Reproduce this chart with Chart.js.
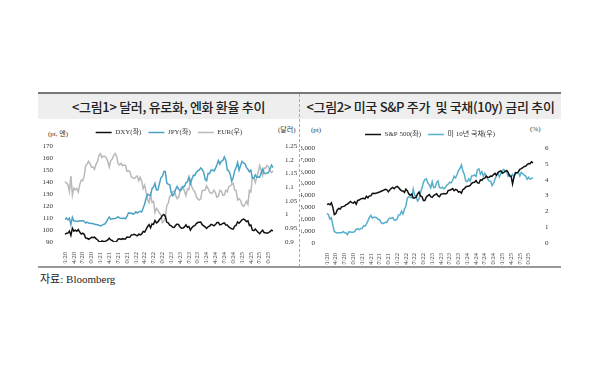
<!DOCTYPE html>
<html>
<head>
<meta charset="utf-8">
<script src="https://cdn.jsdelivr.net/npm/chart.js@4.4.1/dist/chart.umd.min.js"></script>
<style>
  body { margin:0; width:600px; height:372px; background:#fff; position:relative; overflow:hidden;
         font-family:'Liberation Serif','Noto Sans CJK KR',serif; }
  .abs { position:absolute; }
  .title { top:97px; height:20px; font-family:'Noto Sans CJK KR',sans-serif; font-size:13px; font-weight:500;
           color:#222; text-align:center; letter-spacing:-0.3px; line-height:20px; }
  .unit { font-size:7px; color:#333; white-space:nowrap; }
</style>
</head>
<body>
<div class="abs" style="left:38px;top:92px;width:523px;height:2px;background:#777"></div>
<div class="abs" style="left:38px;top:94px;width:523px;height:25px;background:#eeeeee"></div>
<div class="abs" style="left:299px;top:94px;height:173px;border-left:1px dashed #aaa"></div>
<div class="abs" style="left:38px;top:266px;width:523px;height:2px;background:#999"></div>
<div class="abs title" style="left:38px;width:261px">&lt;그림1&gt; 달러, 유로화, 엔화 환율 추이</div>
<div class="abs title" style="left:300px;width:261px">&lt;그림2&gt; 미국 S&amp;P 주가&nbsp; 및 국채(10y) 금리 추이</div>
<div class="abs" style="left:40px;top:270px;font-size:11px;color:#222">자료: Bloomberg</div>

<div class="abs unit" style="left:48px;top:128px">(pt, 엔)</div>
<div class="abs unit" style="left:278px;top:124px">(달러)</div>
<div class="abs unit" style="left:311px;top:126px">(pt)</div>
<div class="abs unit" style="left:530px;top:125px">(%)</div>

<canvas id="fxChart" class="abs" width="258" height="145" style="left:40px;top:121px"></canvas>
<canvas id="spxChart" class="abs" width="258" height="145" style="left:301px;top:121px"></canvas>

<script>
// 월별 라벨 (각 월 1일, 15일 두 점)
const months = [
  '01/20','02/20','03/20','04/20','05/20','06/20','07/20','08/20','09/20','10/20','11/20','12/20',
  '01/21','02/21','03/21','04/21','05/21','06/21','07/21','08/21','09/21','10/21','11/21','12/21',
  '01/22','02/22','03/22','04/22','05/22','06/22','07/22','08/22','09/22','10/22','11/22','12/22',
  '01/23','02/23','03/23','04/23','05/23','06/23','07/23','08/23','09/23','10/23','11/23','12/23',
  '01/24','02/24','03/24','04/24','05/24','06/24','07/24','08/24','09/24','10/24','11/24','12/24',
  '01/25','02/25','03/25','04/25','05/25','06/25','07/25','08/25','09/25','10/25','11/25'
];
const tickLabels = [
  '01/20','04/20','07/20','10/20','01/21','04/21','07/21','10/21','01/22','04/22','07/22','10/22',
  '01/23','04/23','07/23','10/23','01/24','04/24','07/24','10/24','01/25','04/25','07/25','10/25'
];

const dxy = [
  96.4,97.3, 97.4,99.1, 95.5,101.5, 99.0,99.9, 99.0,100.4, 98.3,96.6, 97.4,96.4, 93.3,93.1, 92.3,93.1, 93.9,93.7, 94.0,92.8, 91.9,90.5,
  89.9,90.8, 90.6,90.5, 90.9,91.7, 93.2,91.7, 91.3,90.2, 90.0,90.5, 92.4,92.6, 92.2,92.8, 92.6,92.5, 94.2,94.0, 94.1,95.9, 96.0,96.4,
  95.7,95.2, 96.5,96.0, 96.7,98.8, 98.3,100.5, 103.0,104.5, 101.8,105.0, 104.7,108.0, 105.9,106.7, 108.7,109.8, 112.1,113.0, 111.5,106.4, 105.9,104.0,
  103.5,102.2, 102.1,103.9, 104.9,104.5, 102.5,101.5, 101.7,102.5, 104.3,102.3, 102.9,99.9, 101.9,103.2, 103.6,105.3, 106.2,106.5, 106.7,104.4, 103.5,102.6,
  101.3,102.7, 103.3,104.7, 104.2,103.4, 104.5,106.2, 106.2,104.3, 104.7,105.5, 105.9,104.2, 104.1,102.6, 101.7,101.1, 100.8,103.2, 104.0,106.7, 105.7,107.0,
  108.5,109.1, 108.4,107.0, 107.6,103.7, 104.2,99.8, 99.5,100.8, 99.3,98.0, 96.9,98.6, 99.9,97.8, 97.8,97.3, 97.8,98.7, 99.8,99.3
];
const jpy = [
  108.7,110.0, 108.4,109.8, 104.5,110.5, 107.5,107.5, 107.2,107.1, 107.8,107.3, 107.9,107.2, 105.8,106.6, 105.9,105.7, 105.5,105.4, 104.7,104.6, 104.3,104.0,
  103.3,103.8, 104.7,105.0, 106.6,109.1, 110.7,108.8, 109.3,109.4, 109.6,110.1, 111.1,110.0, 109.7,109.6, 110.0,109.4, 111.3,114.2, 113.9,114.1, 113.2,113.7,
  115.1,114.2, 115.1,115.6, 115.0,118.3, 121.7,126.4, 129.8,129.2, 128.7,134.5, 135.7,138.9, 133.3,133.3, 138.7,143.5, 144.7,148.7, 148.7,139.3, 138.1,137.7,
  131.1,128.5, 130.1,133.9, 136.2,134.2, 132.8,133.8, 136.3,136.2, 139.3,140.2, 144.3,138.8, 142.3,145.6, 145.5,147.9, 149.4,149.8, 151.7,150.4, 148.2,142.2,
  141.0,147.2, 146.9,150.0, 150.0,149.0, 151.3,154.3, 157.8,154.9, 157.3,157.9, 160.9,158.1, 150.0,149.3, 146.2,140.6, 143.6,149.2, 152.0,156.3, 149.8,153.7,
  157.2,155.9, 155.2,152.2, 150.6,148.6, 149.9,143.2, 143.1,146.0, 144.0,144.1, 144.0,147.7, 150.7,147.2, 147.0,147.5, 147.9,151.0, 154.0,152.0
];
const eur = [
  1.121,1.115, 1.109,1.084, 1.140,1.070, 1.097,1.090, 1.095,1.082, 1.110,1.125, 1.123,1.140, 1.178,1.184, 1.194,1.185, 1.172,1.174, 1.165,1.183, 1.193,1.215,
  1.222,1.208, 1.213,1.213, 1.207,1.194, 1.173,1.197, 1.202,1.215, 1.223,1.212, 1.186,1.181, 1.187,1.178, 1.181,1.180, 1.158,1.160, 1.156,1.137, 1.134,1.131,
  1.137,1.141, 1.123,1.136, 1.122,1.095, 1.107,1.081, 1.054,1.044, 1.073,1.044, 1.048,1.008, 1.022,1.016, 1.005,1.000, 0.970,0.975, 0.988,1.033, 1.041,1.066,
  1.070,1.083, 1.086,1.070, 1.058,1.063, 1.084,1.100, 1.102,1.085, 1.069,1.094, 1.091,1.123, 1.100,1.090, 1.084,1.066, 1.057,1.053, 1.057,1.088, 1.088,1.090,
  1.104,1.095, 1.082,1.077, 1.080,1.089, 1.079,1.063, 1.067,1.088, 1.085,1.070, 1.071,1.089, 1.083,1.101, 1.105,1.109, 1.114,1.089, 1.088,1.053, 1.058,1.051,
  1.035,1.030, 1.036,1.049, 1.037,1.088, 1.082,1.135, 1.133,1.117, 1.135,1.156, 1.179,1.160, 1.142,1.170, 1.169,1.179, 1.173,1.160, 1.153,1.160
];
const spx = [
  3231,3289, 3225,3380, 3000,2390, 2470,2783, 2912,2863, 3044,3067, 3100,3227, 3271,3373, 3500,3401, 3363,3483, 3270,3585, 3622,3695,
  3756,3768, 3714,3934, 3811,3969, 3973,4170, 4181,4173, 4204,4255, 4298,4360, 4395,4468, 4523,4480, 4308,4471, 4605,4682, 4567,4709,
  4766,4663, 4516,4401, 4374,4262, 4530,4393, 4132,4023, 4132,3790, 3785,3863, 4130,4297, 3955,3901, 3586,3583, 3872,3992, 4080,3896,
  3840,3999, 4077,4148, 3970,3892, 4109,4138, 4169,4136, 4180,4426, 4450,4505, 4589,4404, 4508,4450, 4288,4327, 4194,4502, 4568,4719,
  4770,4783, 4846,5029, 5096,5117, 5254,5062, 5036,5308, 5278,5432, 5460,5631, 5522,5543, 5648,5626, 5762,5860, 5705,5917, 6032,6075,
  5882,5950, 6041,6115, 5955,5639, 5633,4982, 5569,5917, 5912,6000, 6205,6260, 6339,6449, 6460,6600, 6688,6670, 6840,6750
];
const ust10y = [
  1.88,1.79, 1.51,1.59, 1.15,0.73, 0.67,0.63, 0.64,0.64, 0.65,0.72, 0.66,0.63, 0.53,0.71, 0.70,0.68, 0.68,0.73, 0.87,0.90, 0.84,0.91,
  0.91,1.09, 1.07,1.21, 1.40,1.62, 1.74,1.57, 1.63,1.63, 1.58,1.50, 1.47,1.30, 1.22,1.26, 1.31,1.30, 1.49,1.57, 1.55,1.61, 1.44,1.44,
  1.51,1.77, 1.78,2.00, 1.83,2.14, 2.34,2.83, 2.93,2.88, 2.84,3.40, 3.01,2.93, 2.65,2.79, 3.19,3.45, 3.83,4.00, 4.05,3.80, 3.68,3.48,
  3.87,3.50, 3.51,3.80, 3.92,3.50, 3.47,3.52, 3.42,3.50, 3.64,3.72, 3.84,3.80, 3.96,4.22, 4.11,4.33, 4.57,4.71, 4.93,4.54, 4.33,3.91,
  3.88,4.06, 3.91,4.24, 4.25,4.30, 4.20,4.63, 4.68,4.35, 4.50,4.22, 4.40,4.23, 4.03,3.91, 3.90,3.62, 3.78,4.04, 4.28,4.43, 4.17,4.40,
  4.57,4.65, 4.54,4.48, 4.21,4.31, 4.21,4.33, 4.16,4.45, 4.40,4.45, 4.23,4.46, 4.37,4.29, 4.23,4.03, 4.15,4.03, 4.08,4.13
];

// x축 카테고리: 월 라벨 + 중간점
const labels = months.flatMap(m => [m, '']);

const FONT = "'Liberation Serif','Noto Sans CJK KR',serif";
const tickFont = { family: FONT, size: 7 };

function xAxis() {
    return {
        grid: { display: false },
        border: { display: false },
        ticks: {
            autoSkip: false, minRotation: 90, maxRotation: 90, padding: 2,
            font: { family: FONT, size: 6.5 }, color: '#444',
            callback: function (value) {
                const l = this.getLabelForValue(value);
                return tickLabels.includes(l) ? l : '';
            }
        },
        afterFit: s => { s.height = 22; }
    };
}

function yAxis(pos, min, max, step, w, fmt) {
    return {
        position: pos, min: min, max: max,
        grid: { display: false },
        border: { display: false },
        ticks: { stepSize: step, font: tickFont, color: '#333', padding: 4, callback: fmt },
        afterFit: s => { s.width = w; }
    };
}

function legendOpts() {
    return {
        position: 'top',
        labels: {
            usePointStyle: true, pointStyle: 'line', pointStyleWidth: 16,
            font: { family: FONT, size: 7 }, color: '#333', padding: 7, boxHeight: 7
        }
    };
}

function line(label, data, color, axis, width) {
    return {
        label: label, data: data, borderColor: color, backgroundColor: color,
        borderWidth: width, pointRadius: 0, tension: 0, yAxisID: axis
    };
}

new Chart(document.getElementById('fxChart').getContext('2d'), {
    type: 'line',
    data: {
        labels: labels,
        datasets: [
            line('DXY(좌)', dxy, '#111111', 'y', 1.5),
            line('JPY(좌)', jpy, '#4aa3c4', 'y', 1.5),
            line('EUR(우)', eur, '#b9b9b9', 'y1', 1.5)
        ]
    },
    options: {
        responsive: false, animation: false,
        layout: { padding: { top: 1, bottom: 2 } },
        plugins: { legend: legendOpts(), tooltip: { enabled: false } },
        scales: {
            x: xAxis(),
            y: yAxis('left', 90, 170, 10, 25),
            y1: yAxis('right', 0.9, 1.25, 0.05, 25, v => String(+v.toFixed(2)))
        }
    }
});

new Chart(document.getElementById('spxChart').getContext('2d'), {
    type: 'line',
    data: {
        labels: labels,
        datasets: [
            line('S&P 500(좌)', spx, '#111111', 'y', 1.5),
            line('미 10년 국채(우)', ust10y, '#56afcb', 'y1', 1.5)
        ]
    },
    options: {
        responsive: false, animation: false,
        layout: { padding: { top: 3, bottom: 1 } },
        plugins: { legend: legendOpts(), tooltip: { enabled: false } },
        scales: {
            x: xAxis(),
            y: yAxis('left', 0, 8000, 1000, 26, v => v.toLocaleString('en-US')),
            y1: yAxis('right', 0, 6, 1, 26)
        }
    }
});
</script>
</body>
</html>
